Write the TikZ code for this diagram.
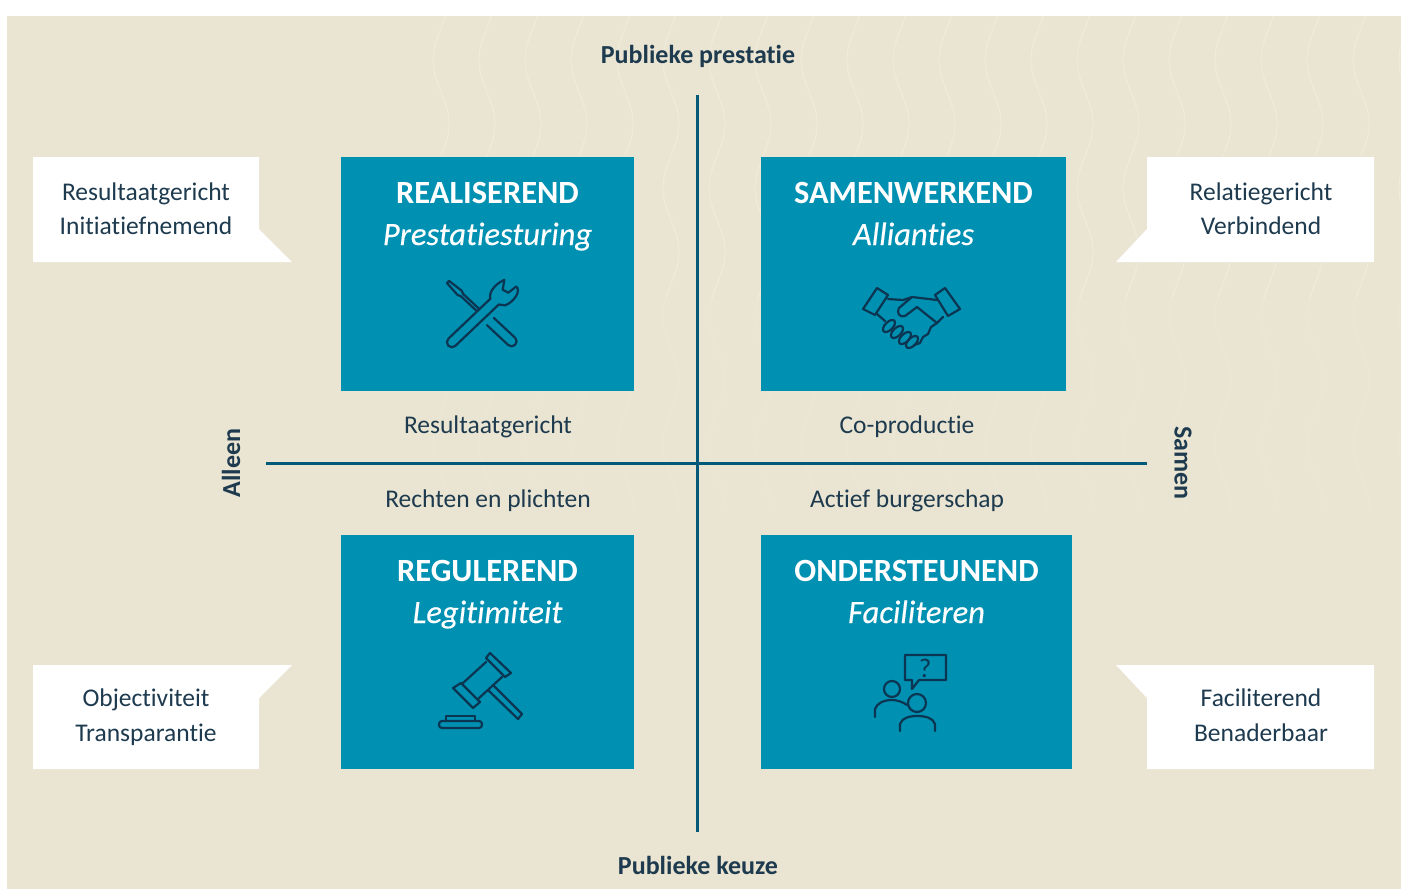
\documentclass[tikz,border=0pt]{standalone}
\usepackage{fontspec}
\setmainfont[Ligatures=CommonOff]{Carlito}
\newfontfamily\subfont[Ligatures=CommonOff,ItalicFeatures={FakeBold=0.25}]{Carlito}
\definecolor{beige}{HTML}{EAE4D2}
\definecolor{wave}{HTML}{F2EDE0}
\definecolor{petrol}{HTML}{0090B2}
\definecolor{axis}{HTML}{005A78}
\definecolor{ink}{HTML}{1D3A4E}
\definecolor{iconink}{HTML}{0B3550}

\begin{document}
\begin{tikzpicture}[x=1pt,y=-1pt]
                \tikzstyle{quad}=[fill=petrol,inner sep=0pt]
                \tikzstyle{title}=[text=white,anchor=base,font=\fontsize{32.4}{36}\selectfont\bfseries]
                \tikzstyle{subtitle}=[text=white,anchor=base,font=\fontsize{32.6}{36}\selectfont\subfont\itshape]
                \tikzstyle{label}=[text=ink,align=center,font=\fontsize{25.5}{34}\selectfont]
                \tikzstyle{axislabel}=[text=ink,font=\fontsize{26}{30}\selectfont\bfseries]
                \tikzstyle{icon}=[draw=iconink,line width=2.2pt,line join=round,line cap=round]

                \useasboundingbox (0,0) rectangle (1402,889);
                \fill[beige] (7,16) rectangle (1401,889);

                \begin{scope}
                    \clip (7,16) rectangle (1401,889);
                    \foreach \w in {0,...,21} {
                        \draw[wave,line width=0.9pt,opacity=0.8] plot[domain=16:300,samples=50,smooth] ({441+46*\w-8*cos(2.8125*(\x-60))},\x);
                        \draw[wave,line width=0.8pt,opacity=0.4] plot[domain=300:510,samples=40,smooth] ({441+46*\w-8*cos(2.8125*(\x-60))},\x);
                    }
                \end{scope}

                \coordinate (A-top) at (697,95);
                \coordinate (A-bottom) at (697,832);
                \coordinate (A-left) at (266,463);
                \coordinate (A-right) at (1147,463);
                \draw[axis,line width=3pt] (A-top) -- (A-bottom);
                \draw[axis,line width=3pt] (A-left) -- (A-right);

                \foreach \num/\x/\y/\bw/\head/\subt in {
                        real/487.5/274/293/REALISEREND/Prestatiesturing,
                        samen/913.5/274/305/SAMENWERKEND/Allianties,
                        regul/487.5/652/293/REGULEREND/Legitimiteit,
                        onder/916.5/652/311/ONDERSTEUNEND/Faciliteren} {
                        \node[quad,minimum width=\bw,minimum height=234] (Q-\num) at (\x,\y) {};
                        \node[title] (T-\num) at (\x,\y-71) {\head};
                        \node[subtitle] (S-\num) at (\x,\y-29) {\subt};
                }

                \fill[white] (33,157) -- (259,157) -- (259,229) -- (292,262) -- (33,262) -- cycle;
                \fill[white] (1147,157) -- (1374,157) -- (1374,262) -- (1116,262) -- (1147,229) -- cycle;
                \fill[white] (33,665) -- (292,665) -- (259,698) -- (259,769) -- (33,769) -- cycle;
                \fill[white] (1116,665) -- (1374,665) -- (1374,769) -- (1147,769) -- (1147,698) -- cycle;

                \node[label] (C-real) at (146,209) {Resultaatgericht\\Initiatiefnemend};
                \node[label,font=\fontsize{25.5}{35}\selectfont] (C-regul) at (146,717) {Objectiviteit\\Transparantie};
                \node[label] (C-samen) at (1261,209) {Relatiegericht\\Verbindend};
                \node[label,font=\fontsize{25.5}{35}\selectfont] (C-onder) at (1261,715.5) {Faciliterend\\Benaderbaar};

                \node[label] (L-real) at (488,427) {Resultaatgericht};
                \node[label] (L-samen) at (907,427) {Co-productie};
                \node[label] (L-regul) at (488,501) {Rechten en plichten};
                \node[label] (L-onder) at (907,501) {Actief burgerschap};

                \node[axislabel] (P-top) at (698,56) {Publieke prestatie};
                \node[axislabel] (P-bottom) at (698,865) {Publieke keuze};
                \node[axislabel,rotate=90] (P-left) at (231,463) {Alleen};
                \node[axislabel,rotate=-90] (P-right) at (1183,463) {Samen};

                % tools
                \begin{scope}[shift={(449,345)},rotate=43.6]
                    \draw[icon] (4,5) arc[start angle=90,end angle=270,radius=5] -- (62,-5)
                        .. controls (64,-10) and (74,-13) .. (85,-9) -- (77,-3) -- (79,3) -- (89,4)
                        .. controls (90,10) and (78,14) .. (68,10) -- (64,5) -- cycle;
                \end{scope}
                \begin{scope}[shift={(448,282)},rotate=-43]
                    \draw[icon] (41,-1.6) -- (19,-1.6) -- (16,-3) -- (0,-1.5) -- (0,1.5) -- (16,3) -- (19,1.6) -- (41,1.6);
                    \draw[icon] (58,-5) -- (87,-5) arc[start angle=-90,end angle=90,radius=5] -- (58,5);
                \end{scope}

                % handshake
                \draw[icon] (877,288) -- (888,295) -- (875,315) -- (863,309) -- cycle;
                \draw[icon] (945,288) -- (960,309) -- (948,316) -- (935,295) -- cycle;
                \draw[icon] (888,299) -- (903,300) -- (912,297) -- (937,300);
                \draw[icon] (912,297) -- (899,308) .. controls (896,313) and (900,318) .. (905,316) -- (917,307) -- (937,323) -- (943,317);
                \draw[icon] (877,314) -- (885,321);
                \draw[icon] (937,323) -- (931,327) -- (928,334) -- (923,337) -- (920,343) -- (914,345);
                \foreach \fx/\fy in {889/326,897/332,905/338,912/342}
                        \draw[icon] (\fx,\fy) ellipse[x radius=7.5,y radius=4,rotate=45];

                % gavel
                \draw[icon] (453,688) -- (461,683) -- (480,702) -- (473,708) -- cycle;
                \draw[icon] (486,658) -- (490,653) -- (511,673) -- (505,677) -- cycle;
                \draw[icon] (463,683) -- (486,662);
                \draw[icon] (478,699) -- (502,677);
                \draw[icon] (488,690) -- (518,719) -- (522,714) -- (494,686);
                \draw[icon,rounded corners=3pt] (439,721) rectangle (482,728);
                \draw[icon] (446,721) -- (446,716) -- (475,716) -- (475,721);

                % question
                \draw[icon] (912,680) -- (905,680) -- (905,655) -- (946,655) -- (946,680) -- (919,680) -- (912,689) -- cycle;
                \node[text=iconink,inner sep=0pt,font=\fontsize{27}{27}\selectfont] (Q-mark) at (925,668) {?};
                \draw[icon] (892,689) circle (8);
                \draw[icon] (917,703) circle (9);
                \draw[icon] (875,717) -- (875,709) .. controls (877,703) and (884,700) .. (892,700) .. controls (897,700) and (903,702) .. (907,705);
                \draw[icon] (900,731) -- (900,724) .. controls (902,718) and (909,716) .. (917,716) .. controls (926,716) and (933,718) .. (935,724) -- (935,731);
            \end{tikzpicture}
\end{document}
